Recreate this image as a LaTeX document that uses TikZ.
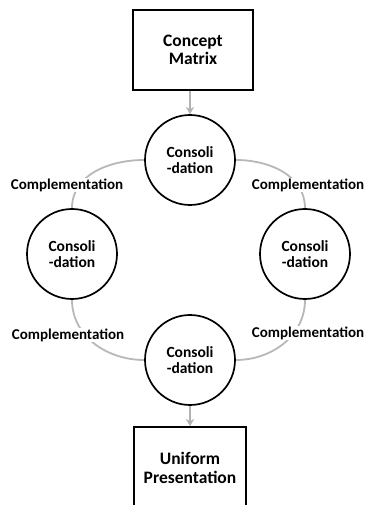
\documentclass[tikz,border=0pt]{standalone}
\usepackage{fontspec}
\setmainfont{Carlito}
\usetikzlibrary{arrows.meta}
\pgfdeclarelayer{bg}
\pgfsetlayers{bg,main}
\begin{document}
\begin{tikzpicture}[x=1pt,y=1pt,
  cons/.style={circle,draw=black,line width=1.7pt,fill=white,minimum size=90pt,inner sep=0pt,align=center,font=\fontsize{15.5}{16.5}\selectfont\bfseries},
  boxnode/.style={rectangle,draw=black,line width=1.7pt,fill=white,align=center,font=\fontsize{17.5}{18.5}\selectfont\bfseries},
  comp/.style={fill=white,inner sep=1pt,font=\fontsize{15}{16}\selectfont\bfseries},
  arc/.style={draw=black!28,line width=1.8pt},
  flow/.style={draw=black!30,line width=1.8pt,-{Stealth[length=7pt,width=8pt,inset=2pt]}}]
\begin{pgfonlayer}{bg}
\fill[white] (0,0) rectangle (375,505);
\end{pgfonlayer}
\useasboundingbox (0,0) rectangle (375,505);
\node[boxnode,minimum width=120pt,minimum height=80pt] (tbox) at (193,455) {Concept\\Matrix};
\node[boxnode,minimum width=112pt,minimum height=82pt] (bbox) at (190,37) {Uniform\\Presentation};
\node[cons] (top) at (190,345) {Consoli\\-dation};
\node[cons] (left) at (72,251) {Consoli\\-dation};
\node[cons] (right) at (305,251) {Consoli\\-dation};
\node[cons] (bot) at (190,145) {Consoli\\-dation};
\begin{pgfonlayer}{bg}
\draw[arc] (top.west) to[out=180,in=90] (left.north);
\draw[arc] (top.east) to[out=0,in=90] (right.north);
\draw[arc] (left.south) to[out=-90,in=180] (bot.west);
\draw[arc] (right.south) to[out=-90,in=0] (bot.east);
\end{pgfonlayer}
\node[comp] (c1) at (67,320) {Complementation};
\node[comp] (c2) at (308,320) {Complementation};
\node[comp] (c3) at (68,170) {Complementation};
\node[comp] (c4) at (308,172) {Complementation};
\draw[flow] (top.north |- tbox.south) -- (top.north);
\draw[flow] (bot.south) -- (bot.south |- bbox.north);
\end{tikzpicture}
\end{document}
